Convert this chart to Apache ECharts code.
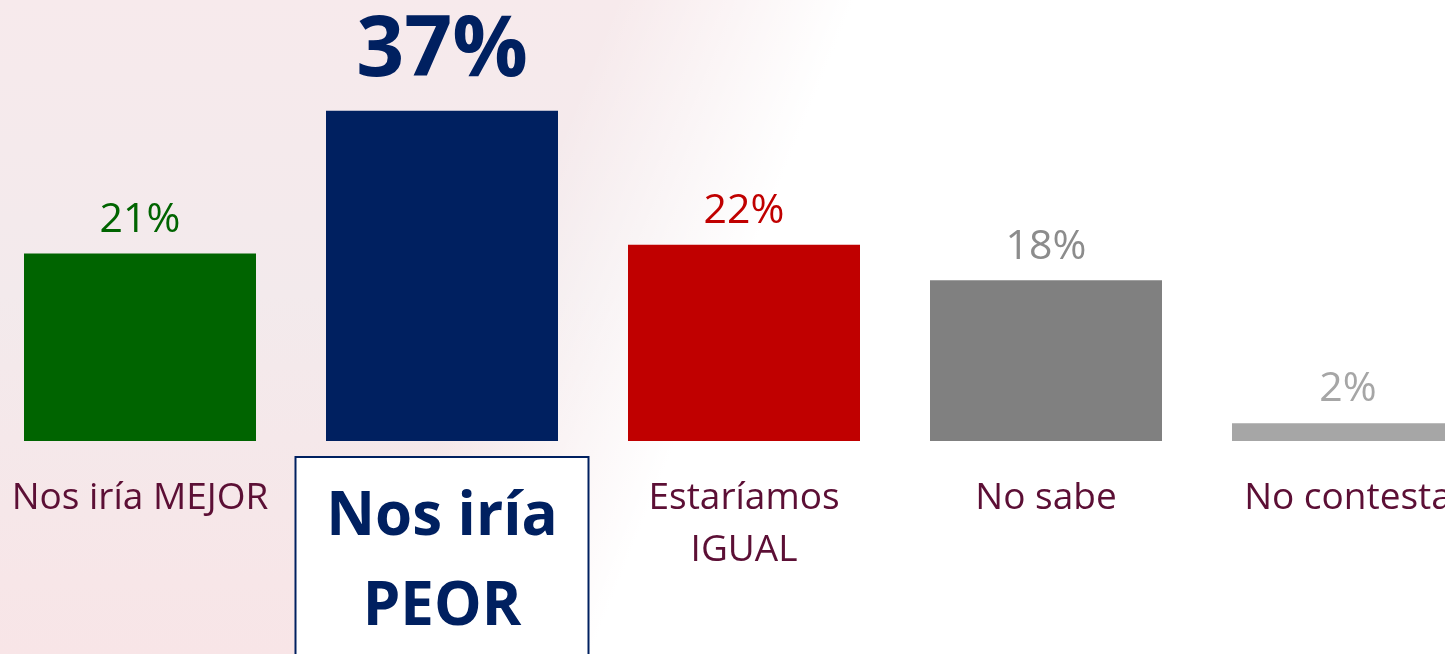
<!DOCTYPE html>
<html>
<head>
<meta charset="utf-8">
<script src="https://cdn.jsdelivr.net/npm/echarts@6/dist/echarts.min.js"></script>
<style>
html,body{margin:0;padding:0;width:1445px;height:654px;overflow:hidden;}
body{background:
  linear-gradient(112deg, rgba(255,255,255,0) 0%, rgba(255,255,255,0) 36%, #ffffff 50%),
  linear-gradient(180deg, #f7eaec 0%, #f3eaec 45%, #f8e5e7 100%);}
#chart{width:1445px;height:654px;}
</style>
</head>
<body>
<div id="chart"></div>
<script>
const categories = ['Nos iría MEJOR', 'Nos iría\nPEOR', 'Estaríamos\nIGUAL', 'No sabe', 'No contesta'];
const values = [21, 37, 22, 18, 2];
const valueLabels = ['21%', '37%', '22%', '18%', '2%'];
const barColors = ['#006400', '#002060', '#C00000', '#808080', '#A6A6A6'];
const labelColors = ['#006400', '#002060', '#C00000', '#8C8C8C', '#A6A6A6'];

const FONT = '"Open Sans", sans-serif';
const highlightIndex = 1;

const chart = echarts.init(document.getElementById('chart'), null, {renderer: 'canvas'});

const xData = categories.map((c, i) => {
  if (i === highlightIndex) {
    return {
      value: c,
      textStyle: {
        fontSize: 60,
        fontWeight: 'bold',
        color: '#002060',
        lineHeight: 90,
        borderColor: '#002060',
        borderWidth: 2,
        backgroundColor: '#ffffff',
        padding: [15, 0, 24, 0],
        width: 291,
        align: 'center'
      }
    };
  }
  return { value: c };
});

const seriesData = values.map((v, i) => {
  const big = i === highlightIndex;
  return {
    value: v,
    itemStyle: { color: barColors[i] },
    label: {
      show: true,
      position: 'top',
      formatter: valueLabels[i],
      color: labelColors[i],
      fontFamily: FONT,
      fontSize: big ? 84 : 41,
      fontWeight: big ? 'bold' : 'normal',
      distance: big ? 17 : 13
    }
  };
});

chart.setOption({
  backgroundColor: 'transparent',
  animation: false,
  grid: { left: -11, width: 1510, top: 84, height: 357, containLabel: false, outerBoundsMode: 'none' },
  xAxis: {
    type: 'category',
    data: xData,
    axisLine: { show: false },
    axisTick: { show: false },
    axisLabel: {
      interval: 0,
      hideOverlap: false,
      margin: 17,
      fontFamily: FONT,
      fontSize: 37,
      color: '#5C0F35',
      lineHeight: 52,
      padding: [14, 0, 0, 0],
      align: 'center'
    }
  },
  yAxis: {
    type: 'value',
    min: 0,
    max: 40,
    show: false,
    splitLine: { show: false }
  },
  series: [{
    type: 'bar',
    data: seriesData,
    barWidth: 232
  }]
});
</script>
</body>
</html>
